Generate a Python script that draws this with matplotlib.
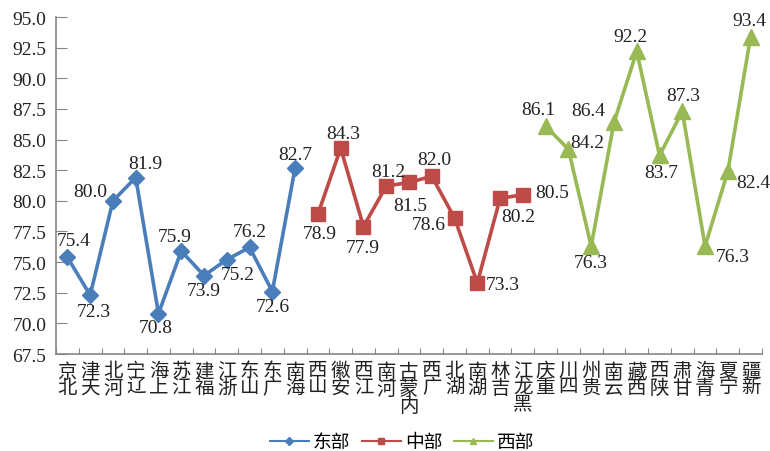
import numpy as np
import matplotlib.pyplot as plt
from matplotlib.lines import Line2D

plt.rcParams['font.family'] = ['Liberation Serif', 'Noto Sans CJK SC']

# provinces, grouped by region
east_names = ['北京', '天津', '河北', '辽宁', '上海', '江苏', '福建', '浙江', '山东', '广东', '海南']
east_vals = [75.4, 72.3, 80.0, 81.9, 70.8, 75.9, 73.9, 75.2, 76.2, 72.6, 82.7]

mid_names = ['山西', '安徽', '江西', '河南', '内蒙古', '广西', '湖北', '湖南', '吉林', '黑龙江']
mid_vals = [78.9, 84.3, 77.9, 81.2, 81.5, 82.0, 78.6, 73.3, 80.2, 80.5]

west_names = ['重庆', '四川', '贵州', '云南', '西藏', '陕西', '甘肃', '青海', '宁夏', '新疆']
west_vals = [86.1, 84.2, 76.3, 86.4, 92.2, 83.7, 87.3, 76.3, 82.4, 93.4]

y_ticks = [67.5, 70.0, 72.5, 75.0, 77.5, 80.0, 82.5, 85.0, 87.5, 90.0, 92.5, 95.0]

# label offsets in pixels (dx, dy), dy positive = up
east_off = [(6, 17), (4, -16), (-23, 9), (10, 14), (-3, -14), (-7, 15),
            (0, -15), (11, -15), (0, 16), (0, -15), (0, 13)]
mid_off = [(2, -19), (3, 15), (-1, -21), (2, 15), (1, -23), (3, 17),
           (-26, -7), (25, -2), (18, -18), (29, 2)]
west_off = [(-7, 17), (19, 7), (0, -16), (-26, 12), (-6, 15), (2, -17),
            (1, 16), (28, -10), (25, -11), (-1, 16)]

fig = plt.figure(figsize=(7.7, 4.52), dpi=100)
ax = fig.add_axes([56 / 770, 1 - 355 / 452, 706 / 770, 337 / 452])

groups = [
    (east_names, east_vals, east_off, '#4A7EBB', 'D', 8.5, '东部'),
    (mid_names, mid_vals, mid_off, '#BE4B48', 's', 9.5, '中部'),
    (west_names, west_vals, west_off, '#98B954', '^', 11, '西部'),
]

all_names = []
start = 0
handles = []
for names, vals, offs, color, mk, ms, label in groups:
    x = np.arange(start, start + len(vals))
    ax.plot(x, vals, color=color, lw=2.6, marker=mk, markersize=ms,
            markeredgecolor=color, markerfacecolor=color, clip_on=False)
    for xi, v, (dx, dy) in zip(x, vals, offs):
        ax.annotate(f'{v:.1f}', (xi, v), xytext=(dx, dy), textcoords='offset pixels',
                    ha='center', va='center', fontsize=14, color='#222222')
    handles.append(Line2D([], [], color=color, lw=1.5, marker=mk, markersize=4, label=label))
    all_names += names
    start += len(vals)

n = len(all_names)
ax.set_xlim(-0.5, n - 0.5)
ax.set_ylim(67.5, 95.0)
ax.set_yticks(y_ticks)
ax.set_yticklabels([f'{t:.1f}' for t in y_ticks])

# category boundaries get the tick marks, centers get the labels
ax.set_xticks(np.arange(-0.5, n, 1.0))
ax.set_xticklabels([])
ax.set_xticks(np.arange(n), ['\n'.join(reversed(s)) for s in all_names], minor=True)
for lbl in ax.get_xticklabels(minor=True):
    lbl.set_linespacing(0.92)

ax.tick_params(axis='x', which='major', direction='in', length=4, color='#868686')
ax.tick_params(axis='x', which='minor', length=0, pad=6, labelsize=14, labelcolor='#222222')
ax.tick_params(axis='y', direction='in', length=8, color='#868686', labelsize=14,
               labelcolor='#222222', pad=7)

for side in ['top', 'right']:
    ax.spines[side].set_visible(False)
for side in ['left', 'bottom']:
    ax.spines[side].set_color('#868686')
    ax.spines[side].set_linewidth(1.2)

fig.legend(handles=handles, loc='center', bbox_to_anchor=(0.522, 0.018), ncol=3,
           frameon=False, fontsize=13.5, handlelength=2.1, handletextpad=0.2,
           columnspacing=0.6)

fig.savefig('out.png', dpi=100)
